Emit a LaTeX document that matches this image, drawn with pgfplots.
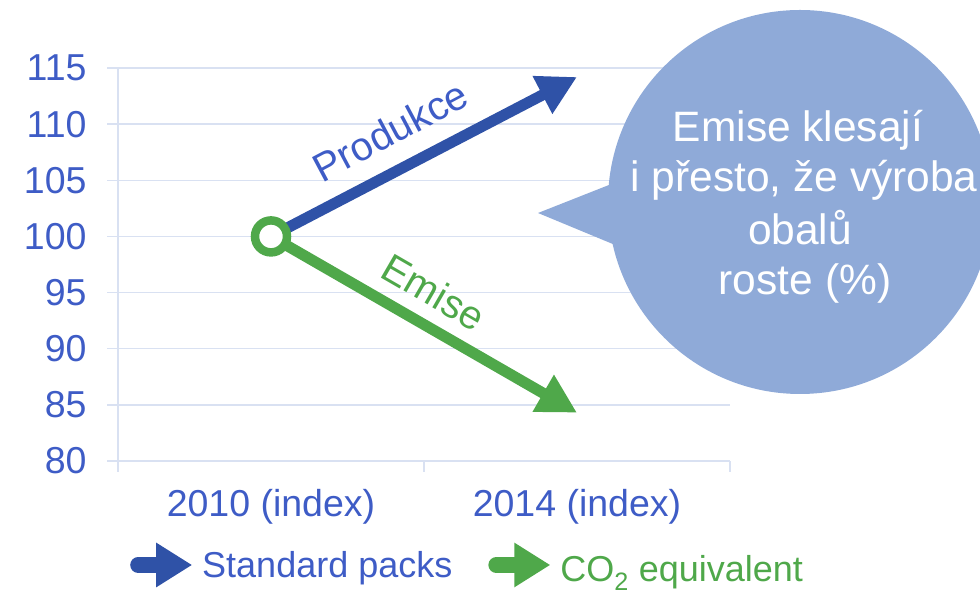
\documentclass[border=0pt]{standalone}
\usepackage{fontspec}
\setmainfont{Liberation Sans}
\usepackage{pgfplots}
\pgfplotsset{compat=1.18}
\usetikzlibrary{arrows.meta}
\definecolor{tickblue}{RGB}{62,92,198}
\definecolor{lineblue}{RGB}{47,82,167}
\definecolor{linegreen}{RGB}{79,168,74}
\definecolor{bubble}{RGB}{143,170,216}
\definecolor{gridc}{RGB}{217,225,242}
\begin{document}
\begin{tikzpicture}[x=1bp,y=1bp]
\useasboundingbox (0,0) rectangle (980,592);
\clip (0,0) rectangle (980,592);
\begin{axis}[
  at={(118bp,131bp)}, anchor=south west,
  scale only axis, width=612bp, height=393bp,
  xmin=-0.5, xmax=1.5, ymin=80, ymax=115,
  ytick={80,85,...,115},
  xtick={-0.5,0.5,1.5},
  xticklabels={2010 (index),2014 (index)},
  x tick label as interval,
  axis x line*=bottom, axis y line*=left,
  axis line style={gridc, line width=1.5bp, -},
  ymajorgrids, grid style={gridc, line width=1.5bp},
  tick style={gridc, line width=1.5bp},
  major tick length=11bp, tick align=outside,
  /pgf/number format/assume math mode=true,
  ticklabel style={font=\fontsize{37.5bp}{44bp}\selectfont, text=tickblue},
  xticklabel style={yshift=-14bp},
  yticklabel style={xshift=-17bp},
  clip=false,
  legend style={at={(0.0196,-0.2646)}, anchor=west, legend columns=2, draw=none, fill=none,
    inner sep=0pt, nodes={inner sep=2bp, font=\fontsize{36bp}{43bp}\selectfont},
    /tikz/every even column/.append style={column sep=34bp}},
  legend image code/.code={\draw[#1, line width=16bp, line cap=round, -{Triangle[length=36bp,width=42bp]}] (4bp,0bp) -- (58bp,0bp);},
]
\addplot[lineblue, line width=11bp, -{Triangle[length=39bp,width=40bp]}] coordinates {(0,100) (1,114.2)};
\addlegendentry{\textcolor{tickblue}{Standard packs}}
\addplot[linegreen, line width=11bp, -{Triangle[length=39bp,width=40bp]}, mark=*, mark indices={1}, mark size=16bp,
  mark options={solid, fill=white, draw=linegreen, line width=8.5bp}] coordinates {(0,100) (1,84.3)};
\addlegendentry{\raisebox{-9bp}{\textcolor{linegreen}{CO\textsubscript{2} equivalent}}}
\node[text=tickblue, rotate=28, font=\fontsize{40bp}{47bp}\selectfont] at (axis cs:0.389,109.4) {Produkce};
\node[text=linegreen, rotate=-30, font=\fontsize{40bp}{47bp}\selectfont] at (axis cs:0.533,95.05) {Emise};
\end{axis}
\fill[bubble] (800,390) circle (192);
\fill[bubble] (538,379) -- (614,409) -- (620,345) -- cycle;
\begin{scope}[every node/.style={text=white, anchor=base, font=\fontsize{42.5bp}{50bp}\selectfont, inner sep=0pt}]
\node at (798,450) {Emise klesají};
\node at (804,400) {i přesto, že výroba};
\node at (800,347) {obalů};
\node at (805,297) {roste (\%)};
\end{scope}
\end{tikzpicture}
\end{document}
